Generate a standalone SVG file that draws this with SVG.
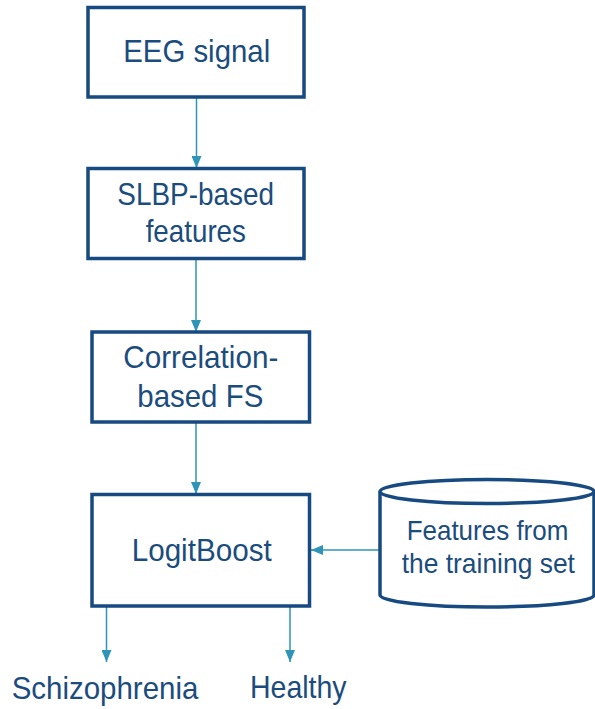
<svg xmlns="http://www.w3.org/2000/svg" width="595" height="709" viewBox="0 0 595 709">
  <defs>
    <marker id="arrow" viewBox="0 0 12 10" refX="12" refY="5" markerWidth="12" markerHeight="10" markerUnits="userSpaceOnUse" orient="auto">
      <path d="M0,0 L12,5 L0,10 Z" fill="#2e94b8"/>
    </marker>
    <style>
      .box { fill: #ffffff; stroke: #174a80; stroke-width: 3.5; }
      .lbl { font-family: "Liberation Sans", Arial, sans-serif; font-size: 31.5px; fill: #1b4c7e; text-anchor: middle; }
      .sm { font-size: 28px; }
      .conn { stroke: #2e94b8; stroke-width: 1.5; fill: none; marker-end: url(#arrow); }
    </style>
  </defs>
  <rect width="595" height="709" fill="#ffffff"/>

  <g id="connectors">
    <line class="conn" x1="196.5" y1="98" x2="196.5" y2="168"/>
    <line class="conn" x1="196" y1="260" x2="196" y2="332"/>
    <line class="conn" x1="196" y1="423" x2="196" y2="494"/>
    <line class="conn" x1="380" y1="550" x2="311" y2="550"/>
    <line class="conn" x1="106.5" y1="607" x2="106.5" y2="662"/>
    <line class="conn" x1="290" y1="607" x2="290" y2="662"/>
  </g>

  <g id="eeg">
    <rect class="box" x="88" y="7.5" width="216" height="89.5"/>
    <text class="lbl" x="196.7" y="62" textLength="147" lengthAdjust="spacingAndGlyphs">EEG signal</text>
  </g>

  <g id="slbp">
    <rect class="box" x="88" y="168.5" width="216" height="90"/>
    <text class="lbl" x="195.7" y="205" textLength="156.7" lengthAdjust="spacingAndGlyphs">SLBP-based</text>
    <text class="lbl" x="195.8" y="241.7" textLength="100.3" lengthAdjust="spacingAndGlyphs">features</text>
  </g>

  <g id="cfs">
    <rect class="box" x="92" y="332" width="217.5" height="90"/>
    <text class="lbl" x="200.8" y="368" textLength="155" lengthAdjust="spacingAndGlyphs">Correlation-</text>
    <text class="lbl" x="200.3" y="407" textLength="126" lengthAdjust="spacingAndGlyphs">based FS</text>
  </g>

  <g id="logitboost">
    <rect class="box" x="92" y="494.5" width="217.5" height="111.5"/>
    <text class="lbl" x="201.7" y="560.7" textLength="140" lengthAdjust="spacingAndGlyphs">LogitBoost</text>
  </g>

  <g id="training">
    <path class="box" d="M380,491.5 L380,595 A107,12 0 0 0 594,595 L594,491.5"/>
    <ellipse class="box" cx="487" cy="491.5" rx="107" ry="12"/>
    <text class="lbl sm" x="487.5" y="540" textLength="161.7" lengthAdjust="spacingAndGlyphs">Features from</text>
    <text class="lbl sm" x="488.3" y="572.7" textLength="173.3" lengthAdjust="spacingAndGlyphs">the training set</text>
  </g>

  <g id="schizophrenia">
    <text class="lbl" x="105" y="699" textLength="186.7" lengthAdjust="spacingAndGlyphs">Schizophrenia</text>
  </g>

  <g id="healthy">
    <text class="lbl" x="298.3" y="697.5" textLength="96.7" lengthAdjust="spacingAndGlyphs">Healthy</text>
  </g>
</svg>
